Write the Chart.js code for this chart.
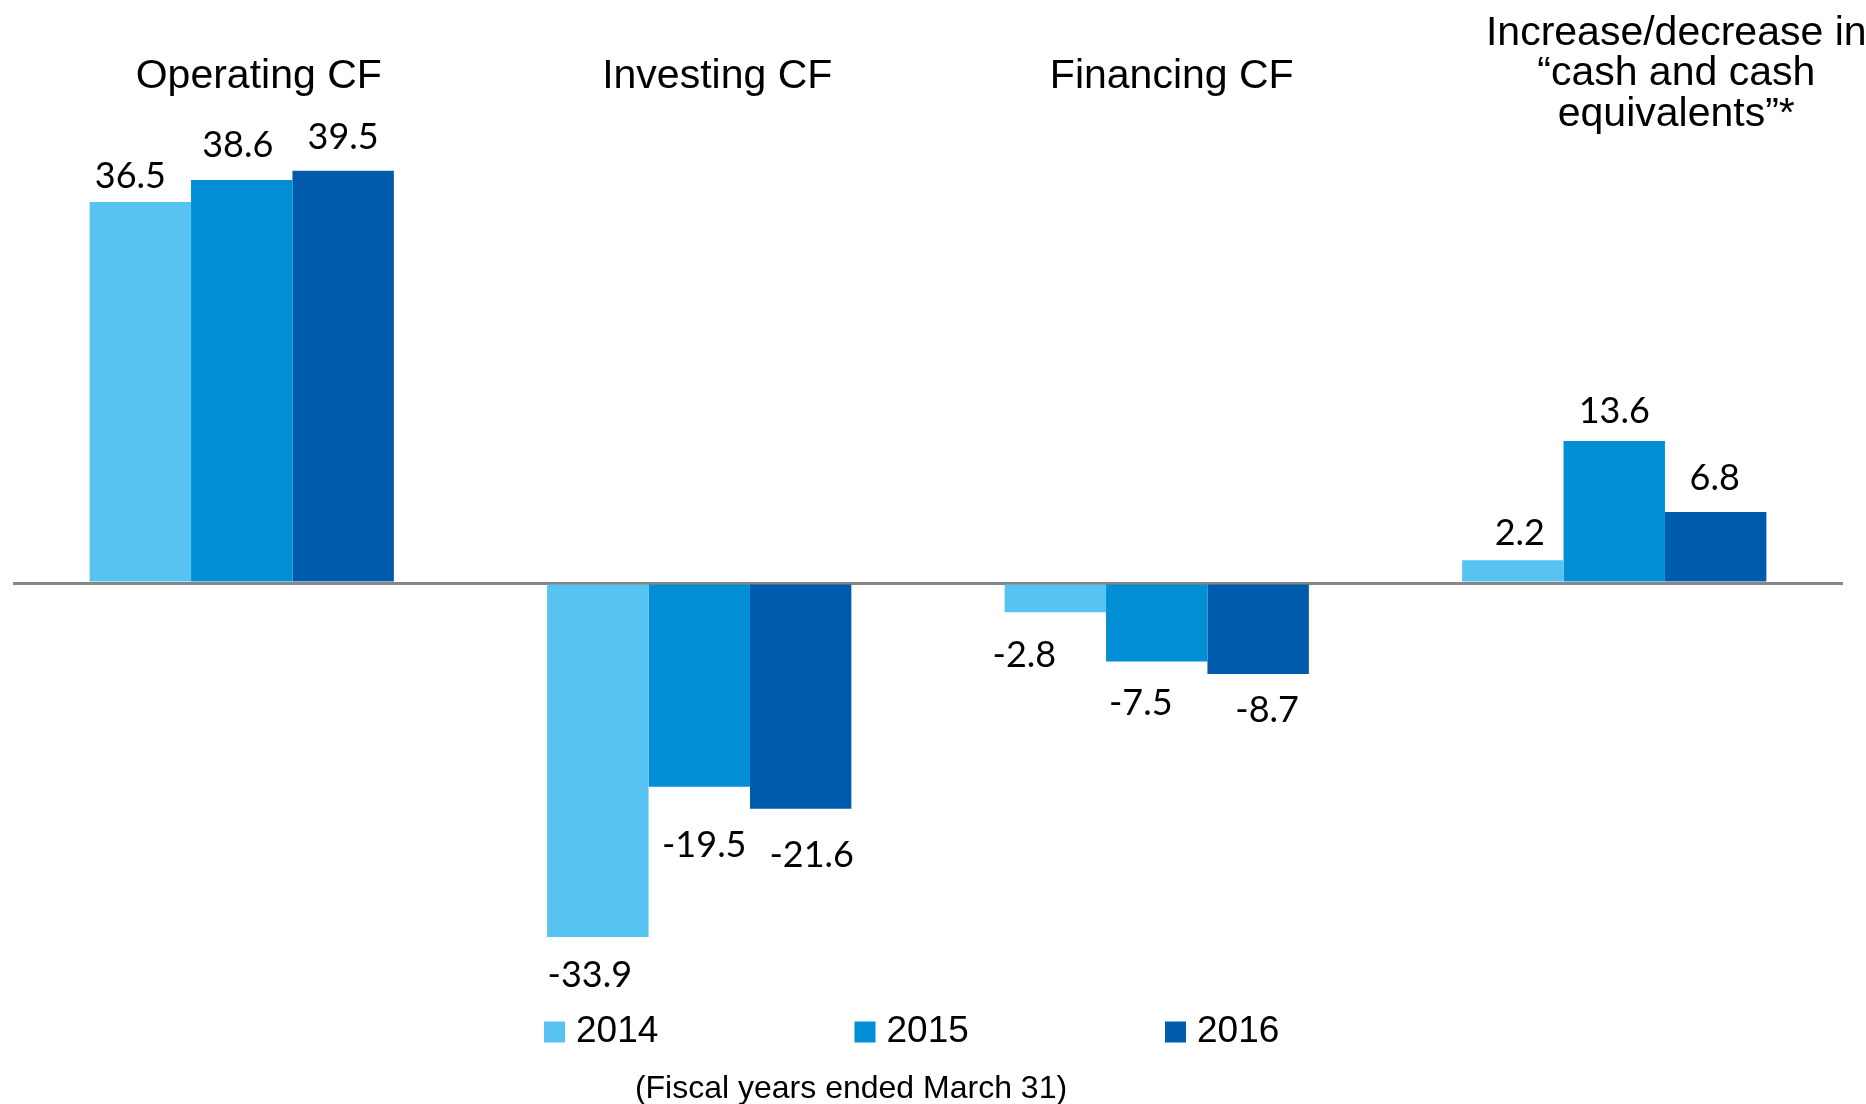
<!DOCTYPE html>
<html>
<head>
<meta charset="utf-8">
<script src="https://cdn.jsdelivr.net/npm/chart.js@4"></script>
<style>
  html, body { margin: 0; padding: 0; background: #ffffff; }
  #wrap { width: 1866px; height: 1104px; position: relative; }
</style>
</head>
<body>
<div id="wrap"><canvas id="c"></canvas></div>
<script>
// ---- data ----
const categories = [
  ['Operating CF'],
  ['Investing CF'],
  ['Financing CF'],
  ['Increase/decrease in', '\u201Ccash and cash', 'equivalents\u201D*']
];
const seriesNames = ['2014', '2015', '2016'];
const values2014 = [36.5, -33.9, -2.8, 2.2];
const values2015 = [38.6, -19.5, -7.5, 13.6];
const values2016 = [39.5, -21.6, -8.7, 6.8];
const footnote = '(Fiscal years ended March 31)';

// ---- styling / layout ----
const colors = ['#56C3F1', '#028ED5', '#005BAC'];
const titleOffsetX = [17, 18, 15, 62];
const titleCenterY = [76.5, 76.5, 76.5, 74];
const titleLineH = 40.5;
// per-label nudges [dx, distance from bar end]
const labelNudge = [
  [[-10, 28], [-8, 36], [-31, 41], [7, 29]],
  [[-4, 37], [5, 56], [-16, 39], [0, 32]],
  [[0, 36], [11, 44], [9, 34], [-1, 36]]
];
const labelShiftY = 2.5;

const allSeries = [values2014, values2015, values2016];

const textPlugin = {
  id: 'texts',
  afterDraw(chart) {
    const ctx = chart.ctx;
    const xs = chart.scales.x;
    ctx.save();
    // category titles
    ctx.fillStyle = '#000';
    ctx.font = '41px "Liberation Sans", Arial, sans-serif';
    ctx.textAlign = 'center';
    ctx.textBaseline = 'middle';
    chart.data.labels.forEach((lab, i) => {
      const cx = xs.getPixelForValue(i) + titleOffsetX[i];
      const n = lab.length;
      lab.forEach((line, j) => {
        const y = titleCenterY[i] + (j - (n - 1) / 2) * titleLineH;
        ctx.fillText(line, cx, y);
      });
    });
    // value labels
    ctx.font = '36px Lato, "Noto Sans", sans-serif';
    chart.data.datasets.forEach((ds, di) => {
      const meta = chart.getDatasetMeta(di);
      meta.data.forEach((el, i) => {
        const v = ds.data[i];
        const nd = labelNudge[di][i];
        const y = (v >= 0 ? el.y - nd[1] : el.y + nd[1]) + labelShiftY;
        ctx.fillText(v.toFixed(1), el.x + nd[0], y);
      });
    });
    // legend
    ctx.font = '37px "Liberation Sans", Arial, sans-serif';
    ctx.textAlign = 'left';
    const legX0 = 544, legPitch = 310.5, boxS = 21, legY = 1032;
    chart.data.datasets.forEach((ds, di) => {
      const x = legX0 + di * legPitch;
      ctx.fillStyle = ds.backgroundColor;
      ctx.fillRect(x, legY - 10.5, boxS, boxS);
      ctx.fillStyle = '#000';
      ctx.fillText(ds.label, x + 32, legY);
    });
    // footnote
    ctx.font = '32px "Liberation Sans", Arial, sans-serif';
    ctx.textAlign = 'center';
    ctx.fillText(footnote, 851, 1089);
    ctx.restore();
  }
};

new Chart(document.getElementById('c'), {
  type: 'bar',
  data: {
    labels: categories,
    datasets: seriesNames.map((name, i) => ({
      label: name,
      data: allSeries[i],
      backgroundColor: colors[i],
      borderWidth: 0,
      barPercentage: 1,
      categoryPercentage: 0.665
    }))
  },
  options: {
    responsive: true,
    maintainAspectRatio: false,
    animation: false,
    layout: { padding: { left: 13, right: 23, top: 61, bottom: 51 } },
    plugins: { legend: { display: false }, tooltip: { enabled: false }, title: { display: false } },
    scales: {
      x: { display: false },
      y: {
        display: true,
        min: -45,
        max: 50,
        z: 1,
        ticks: { display: false, stepSize: 5 },
        border: { display: false },
        grid: {
          drawTicks: false,
          lineWidth: 3,
          color: (c) => (c.tick && c.tick.value === 0 ? '#878787' : 'rgba(0,0,0,0)')
        }
      }
    }
  },
  plugins: [textPlugin]
});
</script>
</body>
</html>
